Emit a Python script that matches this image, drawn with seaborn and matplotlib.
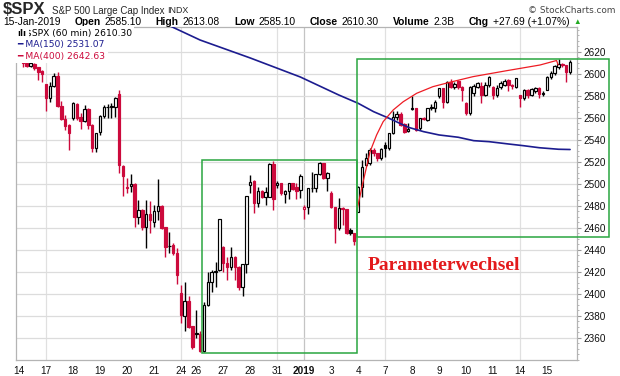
import numpy as np
import pandas as pd
import matplotlib
matplotlib.use("Agg")
import matplotlib.pyplot as plt
import seaborn as sns
from matplotlib.patches import Rectangle
from matplotlib.ticker import MultipleLocator

# --- trading days shown on the x axis (60 min bars) ---
day_labels = ["14", "17", "18", "19", "20", "21", "24", "26", "27", "28", "31",
              "2019", "3", "4", "7", "8", "9", "10", "11", "14", "15"]
bars_per_day = [7, 7, 7, 7, 7, 7, 4, 7, 7, 7, 7, 7, 7, 7, 7, 7, 7, 7, 7, 7, 7]
grid_day_idx = [1, 6, 10, 11, 14, 19]

# --- hourly OHLC, $SPX, 14-Dec-2018 .. 15-Jan-2019 ---
opens = [2629.7, 2620.5, 2609.5, 2607.0, 2608.5, 2605.8, 2602.8,
         2590.7, 2578.2, 2589.1, 2597.9, 2570.6, 2558.5, 2553.4,
         2559.9, 2572.5, 2561.0, 2557.3, 2567.9, 2553.4, 2532.2,
         2547.0, 2561.8, 2569.6, 2569.8, 2570.0, 2581.2, 2516.0,
         2495.7, 2498.0, 2499.7, 2469.4, 2476.0, 2460.9, 2472.4,
         2465.4, 2475.1, 2479.7, 2460.3, 2443.0, 2444.0, 2437.3,
         2400.6, 2380.0, 2393.3, 2370.6,
         2363.1, 2363.6, 2348.0, 2389.7, 2410.3, 2420.0, 2421.5,
         2442.5, 2427.6, 2424.0, 2433.0, 2424.5, 2406.4, 2426.7,
         2498.8, 2502.4, 2482.1, 2493.0, 2488.2, 2488.2, 2517.9,
         2498.9, 2500.3, 2490.3, 2493.6, 2500.3, 2496.7, 2494.2,
         2477.0, 2479.0, 2495.8, 2495.8, 2508.8, 2518.5, 2505.4,
         2491.9, 2478.5, 2459.4, 2478.2, 2476.6, 2457.9, 2454.8,
         2474.3, 2497.3, 2516.9, 2518.5, 2530.6, 2527.6, 2523.0,
         2535.6, 2532.0, 2545.7, 2560.9, 2563.0, 2554.5, 2548.0,
         2568.1, 2568.5, 2550.3, 2560.0, 2557.9, 2568.5, 2569.0,
         2580.0, 2586.7, 2574.5, 2592.7, 2588.2, 2593.6, 2588.2,
         2573.5, 2564.5, 2582.1, 2588.2, 2588.8, 2580.6, 2590.0,
         2588.1, 2580.6, 2587.9, 2590.0, 2594.2, 2590.0, 2588.2,
         2580.3, 2577.6, 2585.1, 2580.6, 2584.0, 2587.3, 2581.5,
         2585.1, 2597.0, 2600.9, 2606.3, 2608.6, 2607.8, 2601.8]
highs = [2635.1, 2622.0, 2610.5, 2610.0, 2609.5, 2606.5, 2603.5,
         2591.0, 2592.8, 2600.3, 2601.1, 2575.2, 2562.5, 2554.0,
         2574.0, 2573.5, 2564.0, 2571.5, 2568.5, 2554.0, 2546.5,
         2562.5, 2571.5, 2572.0, 2573.0, 2579.0, 2585.3, 2517.0,
         2504.8, 2508.8, 2500.5, 2485.1, 2477.0, 2485.1, 2484.2,
         2480.6, 2504.4, 2481.0, 2461.0, 2456.4, 2446.0, 2441.2,
         2408.0, 2410.3, 2398.0, 2371.0,
         2385.0, 2366.0, 2392.0, 2420.0, 2421.5, 2429.0, 2467.8,
         2443.0, 2433.6, 2442.7, 2434.0, 2425.0, 2427.0, 2489.1,
         2507.9, 2503.3, 2497.3, 2494.0, 2497.3, 2518.5, 2520.3,
         2502.7, 2501.0, 2494.0, 2501.0, 2501.0, 2500.3, 2509.2,
         2480.6, 2496.0, 2510.9, 2509.0, 2519.5, 2519.0, 2510.5,
         2493.1, 2479.0, 2486.7, 2479.0, 2477.0, 2460.0, 2455.5,
         2498.0, 2521.5, 2527.6, 2532.0, 2532.0, 2528.0, 2532.5,
         2538.0, 2546.0, 2566.2, 2566.0, 2565.4, 2555.0, 2554.8,
         2579.8, 2569.0, 2560.0, 2561.0, 2569.0, 2572.5, 2576.0,
         2587.0, 2587.0, 2593.0, 2595.3, 2592.0, 2594.5, 2589.0,
         2574.0, 2589.0, 2591.0, 2592.0, 2592.0, 2592.0, 2597.8,
         2589.0, 2590.0, 2593.0, 2595.0, 2595.0, 2591.0, 2596.3,
         2581.0, 2586.0, 2586.0, 2587.0, 2588.0, 2588.0, 2584.0,
         2598.0, 2602.0, 2608.0, 2613.1, 2610.0, 2608.2, 2612.0]
lows = [2618.0, 2606.5, 2606.0, 2606.0, 2603.4, 2594.0, 2592.8,
        2566.0, 2574.6, 2588.2, 2570.0, 2558.0, 2548.8, 2530.5,
        2558.0, 2558.0, 2549.7, 2556.5, 2549.7, 2528.7, 2528.7,
        2544.0, 2559.4, 2559.4, 2559.4, 2561.0, 2509.4, 2489.0,
        2491.2, 2492.7, 2460.9, 2463.3, 2458.0, 2441.2, 2454.8,
        2461.0, 2467.0, 2459.0, 2433.6, 2436.7, 2435.0, 2408.6,
        2373.0, 2366.0, 2369.0, 2350.0,
        2360.0, 2346.6, 2347.0, 2389.0, 2401.8, 2406.4, 2421.0,
        2420.0, 2412.4, 2421.5, 2412.4, 2403.3, 2397.9, 2418.5,
        2491.2, 2472.9, 2479.1, 2487.0, 2480.6, 2487.5, 2476.0,
        2496.0, 2490.0, 2482.8, 2486.0, 2494.0, 2486.0, 2486.7,
        2467.5, 2472.4, 2492.7, 2492.7, 2508.0, 2504.0, 2493.6,
        2478.0, 2446.4, 2457.9, 2462.0, 2454.0, 2453.0, 2444.0,
        2474.3, 2488.0, 2516.0, 2517.0, 2525.0, 2521.0, 2521.5,
        2524.6, 2531.0, 2545.0, 2558.0, 2552.0, 2546.0, 2546.6,
        2567.0, 2547.6, 2549.0, 2558.0, 2557.0, 2567.0, 2565.4,
        2578.0, 2568.9, 2573.0, 2587.0, 2586.0, 2586.0, 2575.0,
        2562.0, 2562.0, 2580.0, 2587.0, 2573.0, 2580.0, 2588.0,
        2577.4, 2579.0, 2586.0, 2589.0, 2584.0, 2586.0, 2587.0,
        2569.6, 2576.0, 2578.0, 2580.0, 2582.0, 2578.0, 2580.0,
        2585.1, 2595.0, 2599.0, 2604.0, 2606.0, 2592.7, 2600.0]
closes = [2620.5, 2609.5, 2607.0, 2609.4, 2605.5, 2601.8, 2599.9,
          2578.2, 2589.1, 2597.9, 2570.6, 2558.5, 2552.5, 2545.9,
          2573.1, 2559.4, 2557.3, 2567.9, 2553.4, 2532.2, 2546.2,
          2561.8, 2569.4, 2570.0, 2570.4, 2577.6, 2517.0, 2507.0,
          2497.2, 2499.7, 2469.4, 2476.0, 2460.9, 2472.4, 2467.4,
          2475.1, 2479.7, 2459.4, 2442.7, 2443.5, 2437.3, 2416.6,
          2380.6, 2393.3, 2370.0, 2351.1,
          2364.5, 2348.0, 2389.4, 2410.3, 2419.4, 2421.0, 2467.7,
          2427.6, 2424.0, 2433.0, 2424.0, 2406.4, 2426.7, 2488.8,
          2501.2, 2482.1, 2493.0, 2488.2, 2492.1, 2517.9, 2485.7,
          2500.3, 2491.2, 2493.6, 2500.3, 2495.1, 2493.6, 2506.9,
          2479.0, 2495.8, 2496.2, 2508.8, 2518.5, 2505.4, 2510.0,
          2478.5, 2459.4, 2477.6, 2476.6, 2454.8, 2454.8, 2447.9,
          2497.3, 2515.4, 2523.0, 2530.6, 2527.6, 2523.0, 2531.9,
          2532.0, 2545.7, 2560.9, 2563.0, 2553.3, 2547.3, 2549.7,
          2568.6, 2549.0, 2559.4, 2559.2, 2568.5, 2570.0, 2574.4,
          2586.7, 2574.5, 2592.7, 2588.2, 2590.5, 2587.6, 2585.0,
          2564.5, 2588.2, 2588.8, 2591.2, 2580.6, 2590.0, 2596.6,
          2580.6, 2587.3, 2591.8, 2593.6, 2589.7, 2588.8, 2596.3,
          2577.6, 2585.1, 2580.6, 2585.7, 2587.3, 2581.5, 2582.6,
          2597.3, 2600.9, 2607.0, 2608.8, 2608.0, 2601.8, 2610.3]

# --- MA(150), read at a few bars ---
ma150_bar = [37, 47, 60, 73, 83, 88, 92, 96, 101, 105, 109, 114, 118, 122, 127, 131, 135, 140, 143]
ma150_val = [2647.0, 2630.6, 2614.3, 2597.0, 2580.6, 2573.1, 2565.5, 2559.5, 2551.3, 2547.3,
             2544.3, 2542.2, 2539.1, 2538.2, 2536.1, 2534.5, 2532.7, 2531.3, 2531.07]

# --- hand drawn red arc ---
arc_bar = [87.6, 89.3, 91.1, 92.8, 94.5, 97.1, 99.7, 103.2, 107.4, 111.8, 117.8, 126.5, 135.2, 139.5, 139.9]
arc_val = [2474.3, 2501.8, 2529.1, 2544.3, 2556.4, 2567.0, 2574.5, 2582.2, 2588.2, 2592.2,
           2597.3, 2602.7, 2607.9, 2612.0, 2607.9]

# --- green annotation boxes (bar from, bar to, low, high) ---
box_consolidation = [47.6, 87.6, 2345.8, 2521.5]
box_breakout = [87.6, 153.1, 2451.3, 2613.1]

RED = "#cc0a3c"
W, H = 620, 376

sns.set_style("white")
plt.rcParams["font.family"] = ["Liberation Sans", "DejaVu Sans"]

fig = plt.figure(figsize=(W / 100, H / 100), dpi=100)
ax = fig.add_axes([16 / W, 16 / H, 561 / W, 333 / H])

df = pd.DataFrame({"open": opens, "high": highs, "low": lows, "close": closes})
df["x"] = np.arange(len(df))
prev = df["close"].shift(1).fillna(df["open"])
col = np.where(df["close"] >= prev, "black", RED)
hollow = df["close"] > df["open"]
face = np.where(hollow, "white", col)
body_lo = np.minimum(df["open"], df["close"])
body_h = np.maximum((df["close"] - df["open"]).abs(), 0.4)

# grid
ax.set_yticks(np.arange(2360, 2621, 20))
ax.yaxis.grid(True, color="#dcdcdc", lw=0.9, zorder=0)
starts = np.concatenate([[0], np.cumsum(bars_per_day)[:-1]])
for k in grid_day_idx:
    ax.axvline(starts[k], color="#c4c4c4" if day_labels[k] == "2019" else "#e0e0e0", lw=0.9, zorder=0)

# candles
ax.vlines(df["x"], df["low"], df["high"], colors=col, lw=1.0, zorder=2)
ax.bar(df["x"], body_h, bottom=body_lo, width=0.64, color=face, edgecolor=col,
       linewidth=0.85, zorder=3)

# MA(150) and red arc
sns.lineplot(x=ma150_bar, y=ma150_val, ax=ax, color="#1c1c8f", lw=1.2, zorder=4)
sns.lineplot(x=arc_bar, y=arc_val, ax=ax, color="#ee1c24", lw=0.9, sort=False, zorder=4)

# green boxes
for x0, x1, y0, y1 in [box_consolidation, box_breakout]:
    ax.add_patch(Rectangle((x0, y0), x1 - x0, y1 - y0, fill=False, edgecolor="#2aa640",
                           lw=1.1, zorder=5, clip_on=False))

ax.text(90.6, 2425.2, "Parameterwechsel", fontfamily="Liberation Serif", fontweight="bold",
        fontsize=14, color="#e31a1c", ha="left", va="center", zorder=6)

ax.set_xlim(-0.78, 144.8)
ax.set_ylim(2339.7, 2642.45)
ax.set_xlabel("")
ax.set_ylabel("")

ax.yaxis.tick_right()
ax.yaxis.set_minor_locator(MultipleLocator(5))
ax.set_xticks(starts)
ax.set_xticklabels(day_labels)
for t in ax.get_xticklabels():
    if t.get_text() == "2019":
        t.set_fontweight("bold")
ax.xaxis.set_minor_locator(MultipleLocator(1))
ax.tick_params(axis="both", which="major", labelsize=7.2, length=3, width=0.8, color="#999999",
               pad=1.5, labelcolor="#111111")
ax.tick_params(axis="both", which="minor", length=1.5, width=0.6, color="#aaaaaa")
for s in ax.spines.values():
    s.set_color("#b4b4b4")
    s.set_linewidth(0.9)

# legend rows in the top-left corner
def fx(px):
    return px / W

def fy(py):
    return 1 - py / H

bb = dict(facecolor="white", edgecolor="none", pad=1.6)
fig.text(fx(26), fy(33), "$SPX (60 min) 2610.30", fontfamily="DejaVu Sans", fontsize=6.6,
         va="center", ha="left", color="black", bbox=bb, zorder=10)
fig.text(fx(17.5), fy(33), "ılı", fontfamily="DejaVu Sans", fontsize=6.0, fontweight="bold",
         va="center", ha="left", color="black", bbox=bb, zorder=10)
fig.text(fx(17.5), fy(44.5), "━ MA(150) 2531.07", fontfamily="DejaVu Sans", fontsize=6.6,
         va="center", ha="left", color="#1c1c8f", bbox=bb, zorder=10)
fig.text(fx(17.5), fy(56), "━ MA(400) 2642.63", fontfamily="DejaVu Sans", fontsize=6.6,
         va="center", ha="left", color=RED, bbox=bb, zorder=10)

# header
renderer = fig.canvas.get_renderer()
fig.text(fx(3), fy(10), "$SPX", fontsize=12, fontweight="bold", va="center", ha="left")
t = fig.text(fx(52), fy(10.5), "S&P 500 Large Cap Index", fontsize=7.0, va="center", ha="left")
x_indx = 52 + t.get_window_extent(renderer).width + 3
fig.text(fx(x_indx), fy(10.5), "INDX", fontsize=6.4, va="center", ha="left")
fig.text(fx(615), fy(10.5), "© StockCharts.com", fontfamily="DejaVu Sans", fontsize=6.4,
         color="#444444", va="center", ha="right")

runs = [("15-Jan-2019", "normal", "black", 14), ("Open", "bold", "black", 4),
        ("2585.10", "normal", "black", 14), ("High", "bold", "black", 4),
        ("2613.08", "normal", "black", 14), ("Low", "bold", "black", 4),
        ("2585.10", "normal", "black", 14), ("Close", "bold", "black", 4),
        ("2610.30", "normal", "black", 14), ("Volume", "bold", "black", 4),
        ("2.3B", "normal", "black", 14), ("Chg", "bold", "black", 4),
        ("+27.69 (+1.07%)", "normal", "black", 4), ("▲", "normal", "#22aa22", 0)]
x = 3.0
for s, wt, c, gap in runs:
    t = fig.text(fx(x), fy(22), s, fontsize=7.4 if s != "▲" else 5.5, fontweight=wt, color=c,
                 va="center", ha="left",
                 fontfamily=["Liberation Sans", "DejaVu Sans"])
    x += t.get_window_extent(renderer).width + gap

fig.savefig("out.png", dpi=100)
